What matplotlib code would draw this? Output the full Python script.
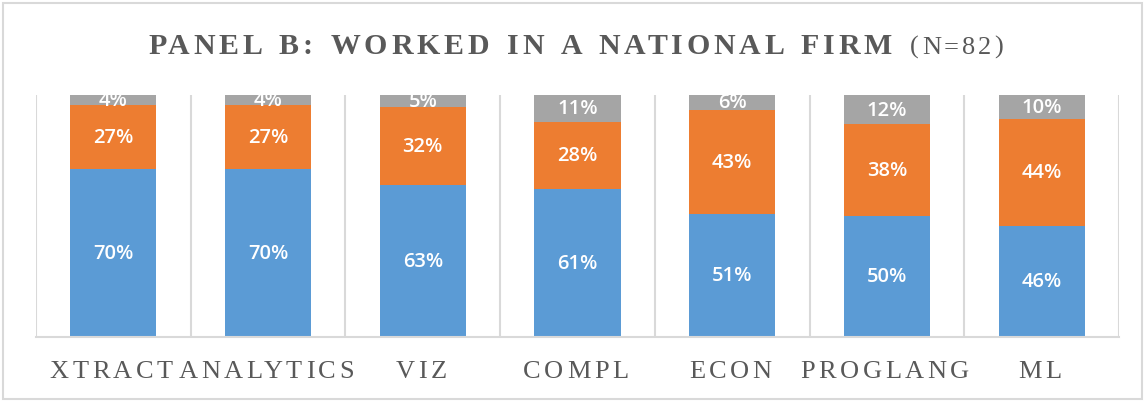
import numpy as np
import matplotlib
matplotlib.use('Agg')
import matplotlib.pyplot as plt
from matplotlib.patches import Rectangle
from matplotlib.transforms import IdentityTransform

categories = ['XTRACT', 'ANALYTICS', 'VIZ', 'COMPL', 'ECON', 'PROGLANG', 'ML']
bottom_vals = [70, 70, 63, 61, 51, 50, 46]
middle_vals = [27, 27, 32, 28, 43, 38, 44]
top_vals = [4, 4, 5, 11, 6, 12, 10]

colors = ['#5B9BD5', '#ED7D31', '#A5A5A5']
text_gray = '#595959'
line_gray = '#D9D9D9'

W, H = 1145, 402

# 100% stacked: scale each column to its own total
series = np.array([bottom_vals, middle_vals, top_vals], dtype=float)
shares = series / series.sum(axis=0) * 100

fig = plt.figure(figsize=(W / 100, H / 100), dpi=100)
renderer = fig.canvas.get_renderer()


def text_width(s, **kw):
    t = fig.text(0, 0, s, **kw)
    w = t.get_window_extent(renderer).width
    t.remove()
    return w


def spaced_text(s, x, y, tracking, word_gap=0, ha='left', **kw):
    # draw text letter by letter with extra spacing (pixel coords)
    n_sp = s.count(' ')
    full = text_width(s, **kw) + tracking * (len(s) - 1) + word_gap * n_sp
    if ha == 'center':
        x = x - full / 2
    for i, ch in enumerate(s):
        if ch == ' ':
            continue
        left = (text_width(s[:i + 1], **kw) - text_width(ch, **kw)
                + tracking * i + word_gap * s[:i].count(' '))
        fig.text(x + left, y, ch, transform=IdentityTransform(),
                 va='baseline', ha='left', **kw)
    return x + full


ax = fig.add_axes([36 / W, 1 - 338 / H, (1119 - 36) / W, (338 - 96) / H])

x = np.arange(len(categories))
base = np.zeros(len(categories))
for i in range(3):
    ax.bar(x, shares[i], bottom=base, width=0.556, color=colors[i], zorder=2)
    for xi, b, h, v in zip(x, base, shares[i], series[i]):
        ax.text(xi, b + h / 2, f'{int(v)}%', ha='center', va='center',
                color='white', fontsize=14.5, family='Open Sans',
                fontweight='semibold', clip_on=True, zorder=3)
    base += shares[i]

ax.set_xlim(-0.5, len(categories) - 0.5)
ax.set_ylim(0, 100)
ax.set_yticks([])

# separator lines between categories
ax.set_xticks(np.arange(len(categories) + 1) - 0.5, minor=True)
ax.grid(axis='x', which='minor', color=line_gray, linewidth=1.5, zorder=0)
ax.tick_params(axis='x', which='both', length=0)
ax.set_xticks(x)
ax.set_xticklabels([])

for s in ['top', 'left', 'right']:
    ax.spines[s].set_visible(False)
ax.spines['bottom'].set_color(line_gray)
ax.spines['bottom'].set_linewidth(1.5)

# category labels with wide letter spacing
label_kw = dict(family='Liberation Serif', fontsize=19, color=text_gray)
for xi, name in zip(x, categories):
    cx = ax.transData.transform((xi, 0))[0] - 2
    spaced_text(name, cx, H - 378, 3.6, ha='center', **label_kw)

# title
title_kw = dict(family='Liberation Serif', fontweight='bold', fontsize=21.5,
                color=text_gray)
spaced_text('PANEL B: WORKED IN A NATIONAL FIRM', 148, H - 54, 3.8,
            word_gap=3, **title_kw)
spaced_text('(N=82)', 910, H - 54, 3.0, family='Liberation Serif',
            fontsize=19, color=text_gray)

fig.patches.append(Rectangle((0.003, 0.005), 0.994, 0.985, transform=fig.transFigure,
                             fill=False, edgecolor=line_gray, linewidth=1.5))

fig.savefig('out.png', dpi=100)
